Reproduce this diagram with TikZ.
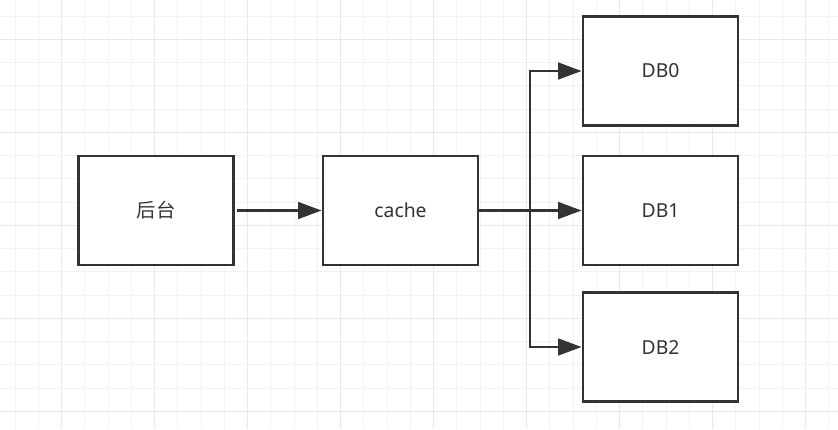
\documentclass[tikz,border=0pt]{standalone}
\usepackage{fontspec}
\setmainfont{Noto Sans}
\newfontfamily\cjk{Noto Sans CJK SC}
\usetikzlibrary{arrows.meta}

\begin{document}
\begin{tikzpicture}[x=.75pt, y=-.75pt,
  box/.style={draw=black!80, line width=1.9pt, fill=white, minimum width=116.5pt, minimum height=81.5pt, inner sep=0pt, font=\fontsize{14.5}{17}\selectfont, text=black!80},
  link/.style={draw=black!80, line width=1.6pt, -{Triangle[length=17.5pt, width=12.5pt]}},
  minor/.style={draw=black!5, line width=.8pt},
  major/.style={draw=black!9, line width=.8pt}]
\useasboundingbox[fill=white] (0,0) rectangle (838,429);

\foreach \i in {0,...,35} \draw[minor] ({15.2+23.25*\i},0) -- ++(0,429);
\foreach \j in {0,...,17} \draw[minor] (0,{16.05+23.25*\j}) -- ++(838,0);
\foreach \i in {0,...,8} \draw[major] ({61.7+93*\i},0) -- ++(0,429);
\foreach \j in {0,...,4} \draw[major] (0,{39.3+93*\j}) -- ++(838,0);

\node[box] (backend) at (156,210.5) {\cjk 后台};
\node[box] (cache) at (400.5,210.5) {cache};
\node[box] (db0) at (660.5,71) {DB0};
\node[box] (db1) at (660.5,210.5) {DB1};
\node[box] (db2) at (660.5,347) {DB2};
\coordinate (split) at (530,210.5);

\draw[link, shorten <=1.5pt] (backend) -- (cache);
\draw[draw=black!80, line width=1.6pt] (cache) -- (split);
\draw[link] (split) |- (db0);
\draw[link] (split) -- (db1);
\draw[link] (split) |- (db2);

\end{tikzpicture}
\end{document}
